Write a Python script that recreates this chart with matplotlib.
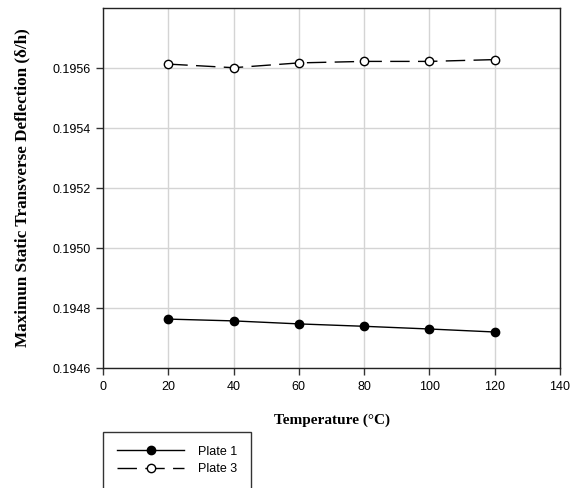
import numpy as np
import matplotlib
matplotlib.use('Agg')
import matplotlib.pyplot as plt
from matplotlib.ticker import FormatStrFormatter

# ── data ─────────────────────────────────────────────────────────────
temperature = [20, 40, 60, 80, 100, 120]
plate1 = [0.194763, 0.194757, 0.194747, 0.194739, 0.194730, 0.194720]
plate3 = [0.195613, 0.195601, 0.195617, 0.195622, 0.195622, 0.195628]

x_ticks = [0, 20, 40, 60, 80, 100, 120, 140]
y_ticks = [0.1946, 0.1948, 0.1950, 0.1952, 0.1954, 0.1956]
# ─────────────────────────────────────────────────────────────────────

plt.rcParams['font.family'] = ['Liberation Sans', 'DejaVu Sans']

fig = plt.figure(figsize=(5.71, 4.88), dpi=100)
ax = fig.add_axes([103 / 571, 1 - 368 / 488, 457 / 571, 360 / 488])

l1, = ax.plot(temperature, plate1, color='black', lw=1.0, marker='o',
              ms=6, mfc='black', mec='black', label='Plate 1', zorder=3)
l3, = ax.plot(temperature, plate3, color='black', lw=1.0, marker='o',
              ms=6, mfc='white', mec='black', mew=1.0,
              dashes=(14, 6), label='Plate 3', zorder=3)

ax.set_xlim(0, 140)
ax.set_ylim(0.1946, 0.1958)
ax.set_xticks(x_ticks)
ax.set_yticks(y_ticks)
ax.yaxis.set_major_formatter(FormatStrFormatter('%.4f'))
ax.tick_params(direction='out', length=5, width=1, labelsize=9,
               color='#333333', pad=4)
ax.grid(True, color='#d4d4d4', lw=1.0, zorder=0)
ax.set_axisbelow(True)
for sp in ax.spines.values():
    sp.set_color('#222222')
    sp.set_linewidth(1.0)

serif = ['Liberation Serif', 'DejaVu Serif']
ax.set_xlabel('Temperature (°C)', labelpad=15, family=serif,
              weight='bold', size=11)
ax.set_ylabel('Maximun Static Transverse Deflection (δ/h)', labelpad=16,
              family=serif, weight='bold', size=12.3)

leg = fig.legend(handles=[l1, l3], loc='upper left',
                 bbox_to_anchor=(103 / 571, 1 - 432 / 488),
                 frameon=True, fancybox=False, edgecolor='black',
                 fontsize=9, handlelength=5.4, handletextpad=1.1,
                 borderpad=1.1, labelspacing=0.45, borderaxespad=0)
leg.get_frame().set_linewidth(1.0)

fig.savefig('out.png', dpi=100)
